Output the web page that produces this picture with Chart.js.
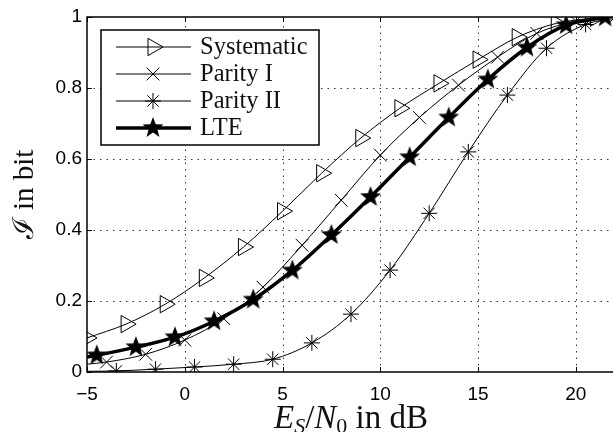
<!DOCTYPE html>
<html>
<head>
<meta charset="utf-8">
<script src="https://cdn.jsdelivr.net/npm/chart.js@4.4.0/dist/chart.umd.min.js"></script>
<style>
html, body { margin: 0; padding: 0; background: #fff; }
</style>
</head>
<body>
<canvas id="chart" width="613" height="432"></canvas>
<script>
// values (x in dB, y = mutual information in bit)
const sysX = [-5, -3, -1, 1, 3, 5, 7, 9, 11, 13, 15, 17, 19, 21];
const sysY = [0.096, 0.135, 0.191, 0.265, 0.352, 0.453, 0.56, 0.659, 0.743, 0.813, 0.88, 0.943, 0.982, 0.998];

const par1X = [-5, -4, -2, 0, 2, 4, 6, 8, 10, 12, 14, 16, 18, 20, 22];
const par1Y = [0.022, 0.028, 0.05, 0.09, 0.15, 0.239, 0.357, 0.484, 0.611, 0.717, 0.808, 0.887, 0.954, 0.988, 1.0];

const par2X = [-5, -3.5, -1.5, 0.5, 2.5, 4.5, 6.5, 8.5, 10.5, 12.5, 14.5, 16.5, 18.5, 20.5, 22.5];
const par2Y = [0.002, 0.003, 0.008, 0.014, 0.022, 0.036, 0.082, 0.163, 0.287, 0.447, 0.62, 0.78, 0.912, 0.979, 1.0];

const lteX = [-5, -4.5, -2.5, -0.5, 1.5, 3.5, 5.5, 7.5, 9.5, 11.5, 13.5, 15.5, 17.5, 19.5, 21.5];
const lteY = [0.042, 0.047, 0.07, 0.098, 0.143, 0.204, 0.286, 0.386, 0.493, 0.605, 0.717, 0.824, 0.914, 0.977, 0.999];

const seriesNames = ['Systematic', 'Parity I', 'Parity II', 'LTE'];

const xTicks = [-5, 0, 5, 10, 15, 20];
const xTickLabels = ['\u22125', '0', '5', '10', '15', '20'];
const yTicks = [0, 0.2, 0.4, 0.6, 0.8, 1];
const yTickLabels = ['0', '0.2', '0.4', '0.6', '0.8', '1'];

const SERIF = '"Liberation Serif", "DejaVu Serif", serif';
const SANS = '"Liberation Sans", Arial, sans-serif';

function pts(xs, ys) {
    return xs.map((x, i) => ({ x: x, y: ys[i] }));
}

// filled pentagram marker (matlab 'p')
function makeStar(r) {
    const c = document.createElement('canvas');
    const s = Math.ceil(r * 2 + 2);
    c.width = s; c.height = s;
    const g = c.getContext('2d');
    g.beginPath();
    for (let i = 0; i < 10; i++) {
        const rr = i % 2 === 0 ? r : r * 0.42;
        const a = -Math.PI / 2 + i * Math.PI / 5;
        g.lineTo(s / 2 + rr * Math.cos(a), s / 2 + rr * Math.sin(a));
    }
    g.closePath();
    g.fillStyle = '#000';
    g.fill();
    return c;
}
const starImg = makeStar(11);

// first point of some curves is just the line start, no marker
const skipFirst = r => ctx => ctx.dataIndex === 0 ? 0 : r;

const datasets = [
    {
        label: seriesNames[0], data: pts(sysX, sysY),
        borderColor: '#000', borderWidth: 1,
        pointStyle: 'triangle', pointRotation: 90, pointRadius: 10,
        pointBackgroundColor: 'rgba(0,0,0,0)', pointBorderColor: '#000', pointBorderWidth: 1,
        markerSize: 10
    },
    {
        label: seriesNames[1], data: pts(par1X, par1Y),
        borderColor: '#000', borderWidth: 1,
        pointStyle: 'crossRot', pointRadius: skipFirst(9),
        pointBorderColor: '#000', pointBorderWidth: 1,
        markerSize: 9
    },
    {
        label: seriesNames[2], data: pts(par2X, par2Y),
        borderColor: '#000', borderWidth: 1,
        pointStyle: 'star', pointRadius: skipFirst(8),
        pointBorderColor: '#000', pointBorderWidth: 1,
        markerSize: 8
    },
    {
        label: seriesNames[3], data: pts(lteX, lteY),
        borderColor: '#000', borderWidth: 3.5,
        pointStyle: starImg, pointRadius: skipFirst(10),
        markerSize: 10
    }
];

function drawMarker(ctx, ds, x, y) {
    ctx.save();
    ctx.strokeStyle = '#000';
    ctx.fillStyle = 'rgba(0,0,0,0)';
    ctx.lineWidth = 1;
    if (typeof ds.pointStyle === 'object') {
        ctx.drawImage(ds.pointStyle, x - ds.pointStyle.width / 2, y - ds.pointStyle.height / 2);
    } else {
        Chart.helpers.drawPoint(ctx, {
            pointStyle: ds.pointStyle, radius: ds.markerSize,
            rotation: ds.pointRotation || 0, borderWidth: 1
        }, x, y);
    }
    ctx.restore();
}

const matlabAxes = {
    id: 'matlabAxes',
    beforeDatasetsDraw(chart) {
        const { ctx, chartArea: a, scales: { x, y } } = chart;
        ctx.save();
        ctx.strokeStyle = '#333';
        ctx.lineWidth = 1;
        ctx.setLineDash([1.5, 5]);
        xTicks.forEach(v => {
            if (v === xTicks[0]) return;
            const px = Math.round(x.getPixelForValue(v)) + 0.5;
            ctx.beginPath(); ctx.moveTo(px, a.bottom); ctx.lineTo(px, a.top); ctx.stroke();
        });
        yTicks.forEach(v => {
            if (v === 0 || v === 1) return;
            const py = Math.round(y.getPixelForValue(v)) + 0.5;
            ctx.beginPath(); ctx.moveTo(a.left, py); ctx.lineTo(a.right, py); ctx.stroke();
        });
        ctx.restore();
    },
    afterDatasetsDraw(chart) {
        const { ctx, chartArea: a, scales: { x, y } } = chart;
        ctx.save();
        // frame (right side is cut off in the picture)
        ctx.strokeStyle = '#000';
        ctx.lineWidth = 1.5;
        ctx.beginPath();
        ctx.moveTo(a.right + 2, a.top); ctx.lineTo(a.left, a.top);
        ctx.lineTo(a.left, a.bottom); ctx.lineTo(a.right + 2, a.bottom);
        ctx.stroke();
        // inward ticks
        ctx.lineWidth = 1;
        xTicks.forEach(v => {
            const px = Math.round(x.getPixelForValue(v)) + 0.5;
            ctx.beginPath();
            ctx.moveTo(px, a.bottom); ctx.lineTo(px, a.bottom - 5);
            ctx.moveTo(px, a.top); ctx.lineTo(px, a.top + 5);
            ctx.stroke();
        });
        yTicks.forEach(v => {
            const py = Math.round(y.getPixelForValue(v)) + 0.5;
            ctx.beginPath(); ctx.moveTo(a.left, py); ctx.lineTo(a.left + 5, py); ctx.stroke();
        });

        // legend box
        const lx = 101, ly = 30, lw = 218, lh = 115;
        ctx.fillStyle = '#fff';
        ctx.fillRect(lx, ly, lw, lh);
        ctx.lineWidth = 1.5;
        ctx.strokeRect(lx, ly, lw, lh);
        ctx.font = '24.5px ' + SERIF;
        ctx.textAlign = 'left';
        ctx.textBaseline = 'alphabetic';
        datasets.forEach((ds, i) => {
            const ry = 47 + i * 27;
            ctx.strokeStyle = '#000';
            ctx.lineWidth = ds.borderWidth;
            ctx.beginPath(); ctx.moveTo(116, ry); ctx.lineTo(191, ry); ctx.stroke();
            drawMarker(ctx, ds, 153, ry);
            ctx.fillStyle = '#111';
            ctx.fillText(ds.label, 200, ry + 7);
        });

        // axis titles
        ctx.fillStyle = '#111';
        ctx.save();
        ctx.translate(33, (a.top + a.bottom) / 2);
        ctx.rotate(-Math.PI / 2);
        ctx.textAlign = 'center';
        ctx.font = '29px ' + SERIF;
        ctx.fillText('\u2110 in bit', 0, 0);
        ctx.restore();

        const parts = [
            { t: 'E', it: true }, { t: 'S', it: true, sub: true }, { t: '/' },
            { t: 'N', it: true }, { t: '0', sub: true }, { t: ' in dB' }
        ];
        const fontOf = p => (p.it ? 'italic ' : '') + (p.sub ? '22px ' : '33px ') + SERIF;
        let total = 0;
        parts.forEach(p => { ctx.font = fontOf(p); total += ctx.measureText(p.t).width; });
        let cx = (a.left + 615) / 2 - total / 2;
        parts.forEach(p => {
            ctx.font = fontOf(p);
            ctx.fillText(p.t, cx, 428 + (p.sub ? 5 : 0));
            cx += ctx.measureText(p.t).width;
        });
        ctx.restore();
    }
};

new Chart(document.getElementById('chart'), {
    type: 'line',
    data: { datasets: datasets },
    options: {
        responsive: false,
        animation: false,
        events: [],
        cubicInterpolationMode: 'monotone',
        layout: { autoPadding: false, padding: { top: 17, right: 0, left: 0, bottom: 0 } },
        plugins: { legend: { display: false }, tooltip: { enabled: false } },
        scales: {
            x: {
                type: 'linear', min: -5, max: 21.9,
                afterBuildTicks: s => { s.ticks = xTicks.map(v => ({ value: v })); },
                afterFit: s => { s.height = 60; s.paddingRight = 0; s.paddingLeft = 0; },
                grid: { display: false, drawTicks: false },
                border: { display: false },
                ticks: {
                    padding: 11, color: '#000', font: { family: SANS, size: 19 },
                    callback: v => xTickLabels[xTicks.indexOf(v)]
                }
            },
            y: {
                type: 'linear', min: 0, max: 1,
                afterBuildTicks: s => { s.ticks = yTicks.map(v => ({ value: v })); },
                afterFit: s => { s.width = 87; s.paddingTop = 0; s.paddingBottom = 0; },
                grid: { display: false, drawTicks: false },
                border: { display: false },
                ticks: {
                    padding: 5, color: '#000', font: { family: SANS, size: 19 },
                    callback: v => yTickLabels[yTicks.indexOf(v)]
                }
            }
        }
    },
    plugins: [matlabAxes]
});
</script>
</body>
</html>
